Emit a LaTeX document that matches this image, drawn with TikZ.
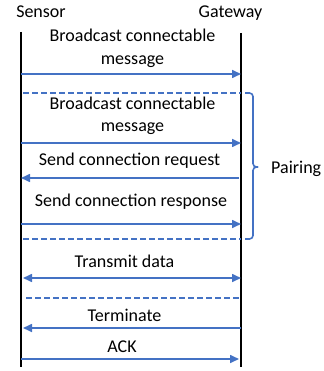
\documentclass[tikz,border=0pt]{standalone}
\usepackage{fontspec}
\setmainfont{Carlito}
\usetikzlibrary{arrows.meta}
\definecolor{officeblue}{HTML}{4472C4}
\begin{document}
\begin{tikzpicture}[x=1pt,y=-1pt,
  lbl/.style={anchor=base,inner sep=0pt,font=\fontsize{18}{22}\selectfont},
  life/.style={line width=1.6pt,black},
  msg/.style={line width=1.6pt,officeblue,-{Triangle[length=9pt,width=8pt]}},
  both/.style={line width=1.6pt,officeblue,{Triangle[length=9pt,width=8pt]}-{Triangle[length=9pt,width=8pt]}},
  sep/.style={line width=1.2pt,officeblue,dash pattern=on 6pt off 3pt},
  brace/.style={line width=1.6pt,officeblue,rounded corners=3.5pt}]
\useasboundingbox (0,0) rectangle (323,371);
% headers
\node[lbl] (sensor) at (41,18) {Sensor};
\node[lbl] (gateway) at (230.5,18) {Gateway};
% lifelines
\coordinate (s0) at (21,32);
\coordinate (s1) at (21,367);
\coordinate (g0) at (241,33);
\coordinate (g1) at (241,367);
\draw[life] (s0) -- (s1);
\draw[life] (g0) -- (g1);
% message 1
\node[lbl] (m1a) at (132.5,42) {Broadcast connectable};
\node[lbl] (m1b) at (132.5,65) {message};
\coordinate (a1s) at (21,74); \coordinate (a1g) at (241,74);
\draw[msg] (a1s) -- (a1g);
% dashed 1
\coordinate (d1s) at (23,93); \coordinate (d1g) at (241,93);
\draw[sep] (d1s) -- (d1g);
% message 2
\node[lbl] (m2a) at (132.5,110) {Broadcast connectable};
\node[lbl] (m2b) at (132.5,132) {message};
\coordinate (a2s) at (21,143); \coordinate (a2g) at (241,143);
\draw[msg] (a2s) -- (a2g);
% request
\node[lbl] (m3) at (129.5,166) {Send connection request};
\coordinate (a3s) at (21,178); \coordinate (a3g) at (239,178);
\draw[msg] (a3g) -- (a3s);
% response
\node[lbl] (m4) at (131,206) {Send connection response};
\coordinate (a4s) at (21,224); \coordinate (a4g) at (241,224);
\draw[msg] (a4s) -- (a4g);
% dashed 2
\coordinate (d2s) at (23,239); \coordinate (d2g) at (241,239);
\draw[sep] (d2s) -- (d2g);
% brace
\coordinate (b0) at (245,93);
\coordinate (b1) at (245,239);
\coordinate (bm) at (258,167);
\draw[brace] (b0) -- (253,93) -- (253,167) -- (bm);
\draw[brace] (bm) -- (253,167) -- (253,239) -- (b1);
\node[lbl,anchor=base west] (pairing) at (271,173) {Pairing};
% transmit data
\node[lbl] (m5) at (124.5,267) {Transmit data};
\coordinate (a5s) at (23,278); \coordinate (a5g) at (241,278);
\draw[both] (a5s) -- (a5g);
% dashed 3
\coordinate (d3s) at (26,298); \coordinate (d3g) at (239,298);
\draw[sep] (d3s) -- (d3g);
% terminate
\node[lbl] (m6) at (124.5,321) {Terminate};
\coordinate (a6s) at (23,328); \coordinate (a6g) at (241,328);
\draw[msg] (a6g) -- (a6s);
% ack
\node[lbl] (m7) at (122,352) {ACK};
\coordinate (a7s) at (21,359); \coordinate (a7g) at (239,359);
\draw[msg] (a7s) -- (a7g);
\end{tikzpicture}
\end{document}
